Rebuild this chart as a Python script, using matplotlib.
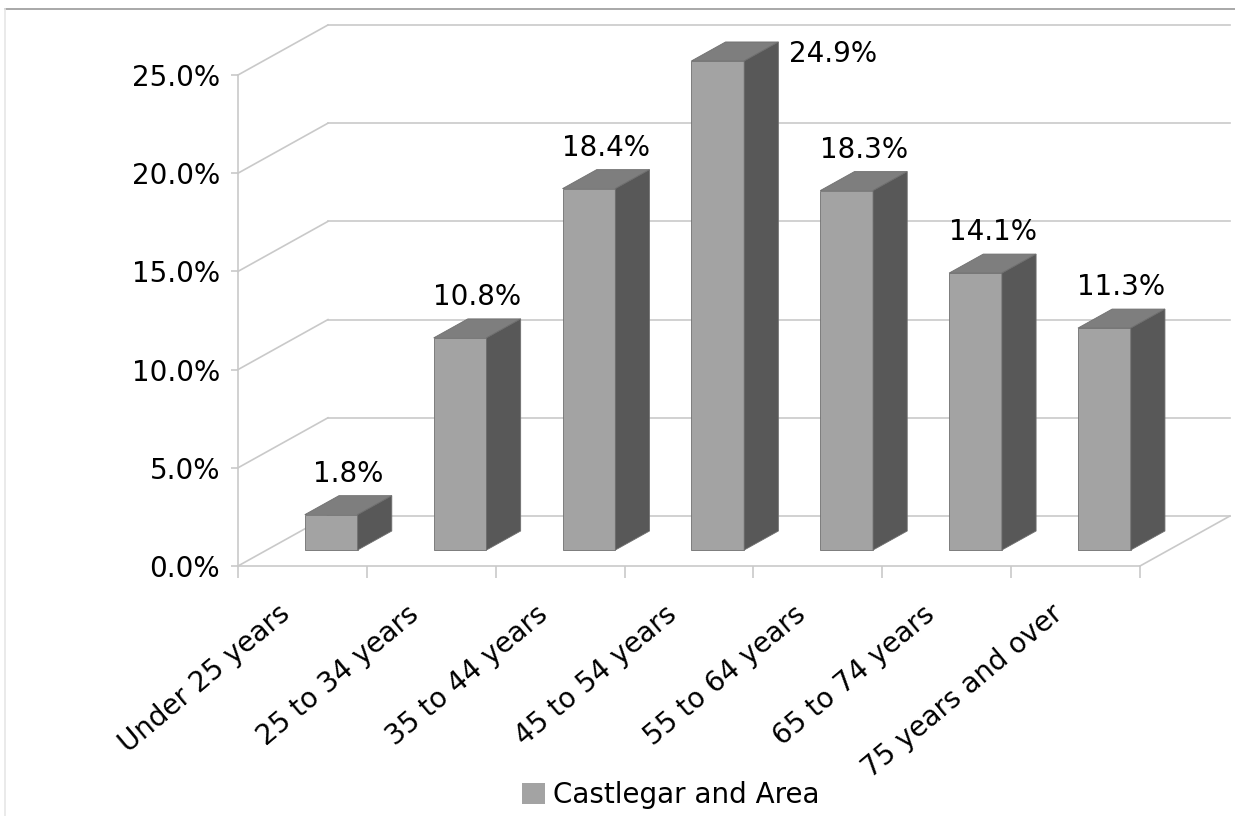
import numpy as np
import matplotlib
matplotlib.use("Agg")
import matplotlib.pyplot as plt
from matplotlib.patches import Polygon, Patch
from matplotlib.lines import Line2D
from matplotlib.transforms import ScaledTranslation

categories = ["Under 25 years", "25 to 34 years", "35 to 44 years", "45 to 54 years",
              "55 to 64 years", "65 to 74 years", "75 years and over"]
values = [1.8, 10.8, 18.4, 24.9, 18.3, 14.1, 11.3]
series_name = "Castlegar and Area"
y_ticks = [0, 5, 10, 15, 20, 25]

FRONT = "#a3a3a3"
TOP = "#7e7e7e"
SIDE = "#585858"
GRID = "#c9c9c9"
FS = 20

# depth of the floor/back wall in data units (categories, percent)
DX, DY = 0.698, 2.546
T0, T1 = 0.32, 0.70   # bar front / back as a fraction of the depth
BAR_W = 0.41

fig = plt.figure(figsize=(12.35, 8.16), dpi=100)
ax = fig.add_axes([238 / 1235, 250 / 816, 902 / 1235, 491 / 816])
n = len(categories)
ax.set_xlim(0, n)
ax.set_ylim(0, 25)
ax.patch.set_visible(False)


def proj(x, y, t):
    return x + t * DX, y + t * DY


# left wall diagonals and back wall gridlines
for v in y_ticks:
    bx, by = proj(0, v, 1)
    ax.plot([0, bx], [v, by], color=GRID, lw=1.2, clip_on=False, zorder=1)
    ax.plot([bx, n + DX], [by, by], color=GRID, lw=1.2, clip_on=False, zorder=1)
# right edge of the floor
ax.plot([n, n + DX], [0, DY], color=GRID, lw=1.2, clip_on=False, zorder=1)

for i, v in enumerate(values):
    c = i + 0.5
    x0, y0 = proj(c - BAR_W / 2, 0, T0)
    x1 = x0 + BAR_W
    bx0, by0 = proj(c - BAR_W / 2, 0, T1)
    bx1 = bx0 + BAR_W
    front = [(x0, y0), (x1, y0), (x1, y0 + v), (x0, y0 + v)]
    top = [(x0, y0 + v), (x1, y0 + v), (bx1, by0 + v), (bx0, by0 + v)]
    side = [(x1, y0), (bx1, by0), (bx1, by0 + v), (x1, y0 + v)]
    for pts, col in ((front, FRONT), (top, TOP), (side, SIDE)):
        ax.add_patch(Polygon(pts, closed=True, facecolor=col, edgecolor="#707070",
                             lw=0.6, clip_on=False, zorder=3))
    label = f"{v:.1f}%"
    if by0 + v + 2.0 > 26.5:
        # no room above the tallest bar, so the label sits beside it
        ax.text(bx1 + 0.08, y0 + v + 0.35, label, fontsize=FS, ha="left", va="center",
                clip_on=False, zorder=4)
    else:
        ax.text((x0 + bx1) / 2, by0 + v + 1.12, label, fontsize=FS, ha="center",
                va="center", clip_on=False, zorder=4)

for side_name in ("top", "right"):
    ax.spines[side_name].set_visible(False)
for side_name in ("left", "bottom"):
    ax.spines[side_name].set_color(GRID)
    ax.spines[side_name].set_linewidth(1.2)

ax.set_yticks(y_ticks)
ax.set_yticklabels([f"{t:.1f}%" for t in y_ticks])
ax.tick_params(axis="y", length=5, color=GRID, width=1.2, pad=8, labelsize=FS)

ax.set_xticks(np.arange(n + 1))
ax.set_xticklabels([])
ax.tick_params(axis="x", which="major", length=8.6, color=GRID, width=1.2)
ax.set_xticks(np.arange(n) + 0.5, minor=True)
ax.set_xticklabels(categories, minor=True, rotation=40, ha="right", va="center",
                   rotation_mode="anchor", fontsize=FS)
ax.tick_params(axis="x", which="minor", length=0, pad=32)
shift = ScaledTranslation(-16 / 100, 0, fig.dpi_scale_trans)
for lab in ax.get_xticklabels(minor=True):
    lab.set_transform(lab.get_transform() + shift)

fig.legend(handles=[Patch(facecolor=FRONT, edgecolor="none", label=series_name)],
           loc="center", bbox_to_anchor=(671 / 1235, 21 / 816), frameon=False,
           fontsize=FS, handlelength=0.82, handleheight=0.82, handletextpad=0.3,
           borderpad=0)

# thin frame around the chart
fig.add_artist(Line2D([5 / 1235, 1], [1 - 9 / 816, 1 - 9 / 816], color="#9a9a9a", lw=1.2))
fig.add_artist(Line2D([5 / 1235, 5 / 1235], [0, 1 - 9 / 816], color="#e6e6e6", lw=1.2))

fig.savefig("out.png", dpi=100)
